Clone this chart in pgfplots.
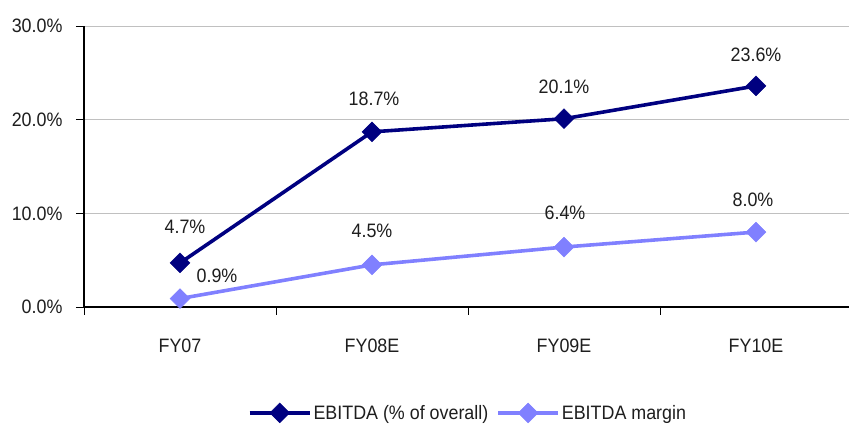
\documentclass[border=0pt]{standalone}
\usepackage{fontspec}
\setmainfont{Liberation Sans}[FakeStretch=0.92]
\usepackage{pgfplots}
\usepackage{pgfplotstable}
\pgfplotsset{compat=1.18}
\definecolor{navy}{RGB}{0,0,128}
\definecolor{lav}{RGB}{128,128,255}
\definecolor{gridgray}{RGB}{192,192,192}
\definecolor{txt}{RGB}{30,30,30}

\pgfplotstableread{
x y lab dx dy
0 4.7 4.7 5 36
1 18.7 18.7 2 33
2 20.1 20.1 0 32
3 23.6 23.6 0 31
}\ebitdashare

\pgfplotstableread{
x y lab dx dy
0 0.9 0.9 37 23
1 4.5 4.5 0 34
2 6.4 6.4 1 34
3 8.0 8.0 -3 32
}\ebitdamargin

\begin{document}
\begin{tikzpicture}
\useasboundingbox (0,0) rectangle (849bp,425bp);
\begin{axis}[
  at={(84bp,118bp)}, anchor=south west,
  scale only axis, width=768bp, height=281bp,
  xmin=-0.5, xmax=3.5, ymin=0, ymax=30,
  axis x line*=bottom, axis y line*=left,
  axis line style={black, line width=1.2pt, -},
  xtick={-0.5,0.5,1.5,2.5,3.5},
  x tick label as interval,
  xticklabels={FY07,FY08E,FY09E,FY10E},
  ytick={0,10,20,30},
  yticklabels={0.0\%,10.0\%,20.0\%,30.0\%},
  tick align=outside,
  major tick length=8bp,
  tick style={black, line width=1pt},
  ymajorgrids, major grid style={gridgray, line width=1pt},
  tick label style={font=\fontsize{19.5}{22}\selectfont, text=txt},
  xticklabel style={yshift=-20bp},
  yticklabel style={xshift=-10bp},
  point meta=explicit symbolic,
  nodes near coords={\pgfplotspointmeta\%},
  visualization depends on={\thisrow{dx}\as\dx},
  visualization depends on={\thisrow{dy}\as\dy},
  nodes near coords style={anchor=center, xshift=\dx bp, yshift=\dy bp, font=\fontsize{19.5}{22}\selectfont, text=txt},
  legend style={draw=none, at={(0.5,-0.377)}, anchor=center, legend columns=2,
    font=\fontsize{19.5}{22}\selectfont, text=txt,
    /tikz/every even column/.append style={column sep=6bp}},
  legend image code/.code={\draw[mark repeat=2,mark phase=2,#1] plot coordinates {(0bp,0bp) (30bp,0bp) (60bp,0bp)};},
  clip=false,
]
\addplot[navy, line width=3.6pt, mark=square*, mark size=7bp, mark options={rotate=45, solid, line width=0.5pt}]
  table[x=x, y=y, meta=lab] {\ebitdashare};
\addlegendentry{EBITDA (\% of overall)}
\addplot[lav, line width=3.6pt, mark=square*, mark size=7bp, mark options={rotate=45, solid, line width=0.5pt}]
  table[x=x, y=y, meta=lab] {\ebitdamargin};
\addlegendentry{EBITDA margin}
\end{axis}
\end{tikzpicture}
\end{document}
